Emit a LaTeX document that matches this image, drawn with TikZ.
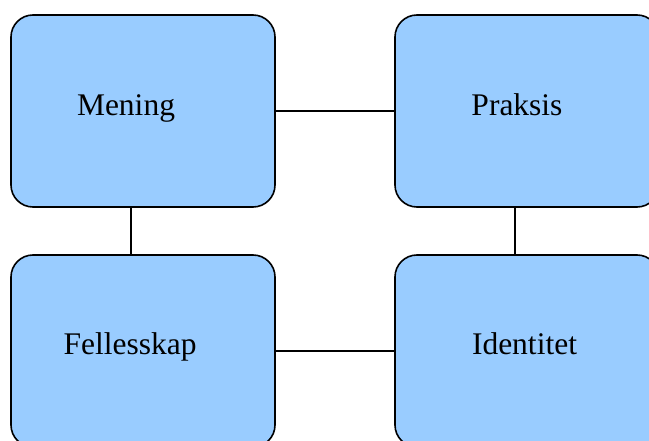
\documentclass[tikz,border=0pt]{standalone}
\usepackage{fontspec}
\setmainfont{Liberation Serif}
\definecolor{boxblue}{HTML}{99CCFF}
\begin{document}
\begin{tikzpicture}[x=1pt,y=-1pt,
  card/.style={draw=black,fill=boxblue,line width=1.6pt,rounded corners=22pt,
    minimum width=264pt,minimum height=192pt,inner sep=0pt},
  lbl/.style={anchor=base,inner sep=0pt,font=\fontsize{31.5}{36}\selectfont},
  link/.style={draw=black,line width=1.4pt}]
\useasboundingbox (0,0) rectangle (649,441);
\clip (0,0) rectangle (649,441);
\node[card] (a) at (143,111) {};
\node[card] (b) at (527,111) {};
\node[card] (c) at (143,351) {};
\node[card] (d) at (527,351) {};
\draw[link] (a.east) -- (b.west);
\draw[link] (c.east) -- (d.west);
\draw[link] ([xshift=-12pt]a.south) -- ([xshift=-12pt]c.north);
\draw[link] ([xshift=-12pt]b.south) -- ([xshift=-12pt]d.north);
\node[lbl] (ta) at (126,116) {Mening};
\node[lbl] (tb) at (517,116) {Praksis};
\node[lbl] (tc) at (130,355) {Fellesskap};
\node[lbl] (td) at (524.5,355) {Identitet};
\end{tikzpicture}
\end{document}
